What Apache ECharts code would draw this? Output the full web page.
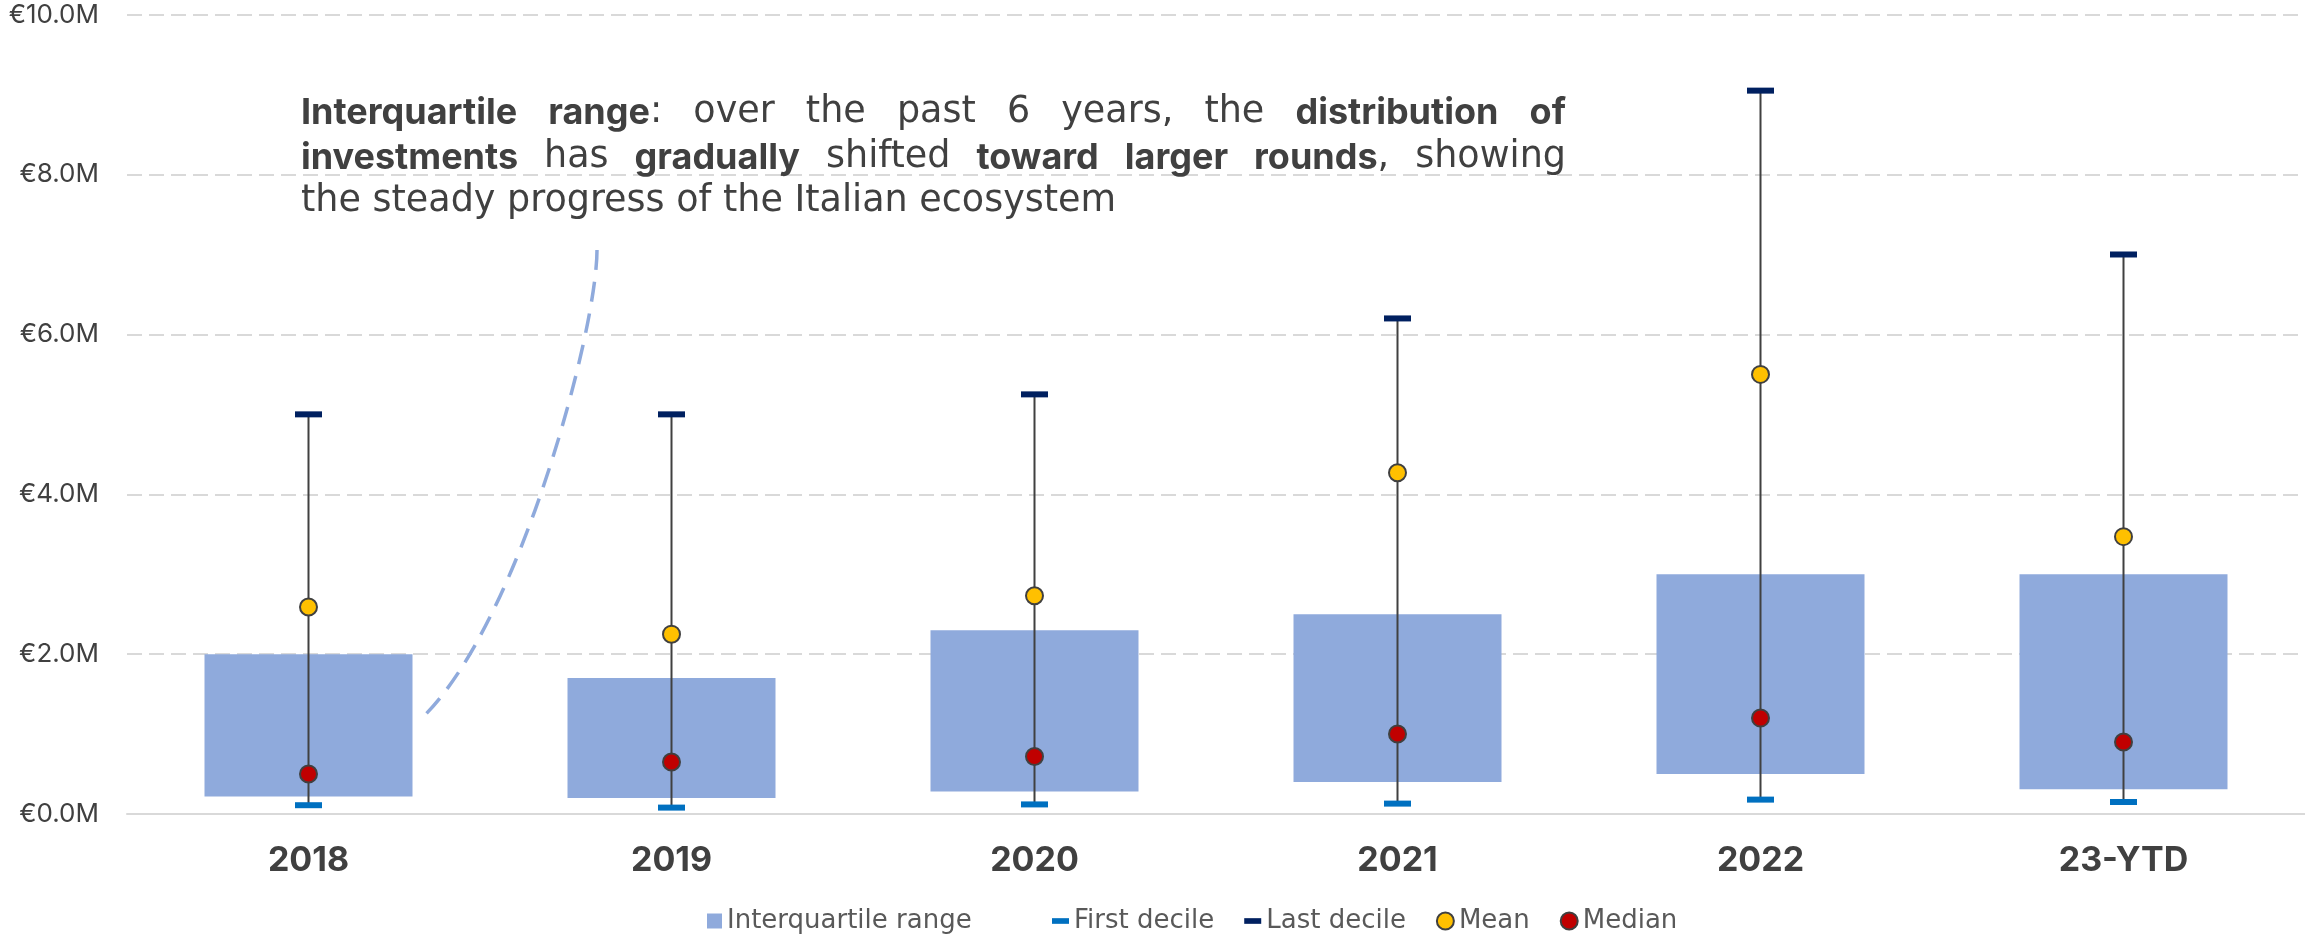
<!DOCTYPE html>
<html><head><meta charset="utf-8">
<script src="https://cdn.jsdelivr.net/npm/echarts@6/dist/echarts.min.js"></script>
<style>html,body{margin:0;padding:0;background:#fff}#c{width:2305px;height:936px}</style>
</head><body><div id="c"></div>
<script>
// ---- data (values in € millions) ----
const categories  = ['2018', '2019', '2020', '2021', '2022', '23-YTD'];
const q1          = [0.22, 0.20, 0.28, 0.40, 0.50, 0.31];
const q3          = [2.00, 1.70, 2.30, 2.50, 3.00, 3.00];
const firstDecile = [0.11, 0.08, 0.12, 0.13, 0.18, 0.15];
const lastDecile  = [5.00, 5.00, 5.25, 6.20, 9.05, 7.00];
const meanVals    = [2.59, 2.25, 2.73, 4.27, 5.50, 3.47];
const medianVals  = [0.50, 0.65, 0.72, 1.00, 1.20, 0.90];
const yTicks      = [0, 2, 4, 6, 8, 10];

// annotation text: words as [segment, bold] lists
const noteLine1 = [[['Interquartile',1]],[['range',1],[':',0]],[['over',0]],[['the',0]],[['past',0]],[['6',0]],[['years,',0]],[['the',0]],[['distribution',1]],[['of',1]]];
const noteLine2 = [[['investments',1]],[['has',0]],[['gradually',1]],[['shifted',0]],[['toward',1]],[['larger',1]],[['rounds',1],[',',0]],[['showing',0]]];
const noteLine3 = 'the steady progress of the Italian ecosystem';

const FONT = 'Inter';
const FONT_REG = 'DejaVu Sans';
const TXT = '#404040';

const chart = echarts.init(document.getElementById('c'));

// ---- justified annotation built with measured word widths ----
const FS_B = 36, FS_R = 36.5;
const ctx = document.createElement('canvas').getContext('2d');
function fontOf(b) { return b ? ('700 ' + FS_B + 'px ' + FONT) : ('400 ' + FS_R + 'px "' + FONT_REG + '"'); }
function mw(t, b) { ctx.font = fontOf(b); return ctx.measureText(t).width; }
function textEl(t, b, x, y) {
  return { type: 'text', x: x, y: y, z: 50,
    style: { text: t, fontFamily: b ? FONT : FONT_REG, fontSize: b ? FS_B : FS_R, fontWeight: b ? 700 : 400,
      fill: TXT, verticalAlign: 'middle', align: 'left' } };
}
const noteLeft = 301, noteRight = 1566;
const graphics = [];
function justify(words, y) {
  const widths = words.map(w => w.reduce((s, seg) => s + mw(seg[0], seg[1]), 0));
  const total = widths.reduce((a, b) => a + b, 0);
  const gap = (noteRight - noteLeft - total) / (words.length - 1);
  let x = noteLeft;
  words.forEach((w, i) => {
    let sx = x;
    w.forEach(seg => { graphics.push(textEl(seg[0], seg[1], sx, y)); sx += mw(seg[0], seg[1]); });
    x += widths[i] + gap;
  });
}
justify(noteLine1, 113);
justify(noteLine2, 158);
graphics.push(textEl(noteLine3, 0, noteLeft, 202));
graphics.push({
  type: 'bezierCurve', z: 40,
  shape: { x1: 597, y1: 250, cpx1: 597, cpy1: 330, cpx2: 520, cpy2: 620, x2: 424, y2: 716 },
  style: { stroke: '#8FAADC', lineWidth: 3.5, lineDash: [20, 12], fill: null }
});

const iqr = q3.map((v, i) => +(v - q1[i]).toFixed(4));
const legendText = { fontFamily: FONT_REG, fontSize: 26, color: '#595959', lineHeight: 30 };

chart.setOption({
  animation: false,
  backgroundColor: '#fff',
  grid: { left: 127, right: 0, top: 14.7, bottom: 122 },
  legend: [
    { left: 707, top: 906, padding: 0, itemWidth: 15, itemHeight: 15, itemGap: 31,
      textStyle: legendText,
      data: [{ name: 'Interquartile range', icon: 'rect' }] },
    { left: 1052, top: 906, padding: 0, itemWidth: 17, itemHeight: 17, itemGap: 30, symbolKeepAspect: true,
      textStyle: legendText,
      data: [
        { name: 'First decile', icon: 'path://M0,0H15V5H0Z' },
        { name: 'Last decile', icon: 'path://M0,0H15V5H0Z' },
        { name: 'Mean', icon: 'circle' },
        { name: 'Median', icon: 'circle' }
      ] }
  ],
  xAxis: {
    type: 'category', data: categories,
    axisLine: { show: true, lineStyle: { color: '#d9d9d9', width: 2 } },
    axisTick: { show: false },
    axisLabel: { fontFamily: FONT, fontSize: 34, fontWeight: 700, color: TXT, margin: 30, lineHeight: 34 }
  },
  yAxis: {
    type: 'value', min: yTicks[0], max: yTicks[yTicks.length - 1], interval: yTicks[1] - yTicks[0],
    axisLine: { show: false }, axisTick: { show: false },
    axisLabel: { fontFamily: FONT, fontSize: 26, color: TXT, margin: 28,
      formatter: v => '€' + v.toFixed(1) + 'M' },
    splitLine: { lineStyle: { color: '#d9d9d9', width: 2, type: [15, 7] } }
  },
  series: [
    { name: 'base', type: 'bar', stack: 'box', data: q1, barWidth: 208,
      itemStyle: { color: 'rgba(0,0,0,0)' }, silent: true, z: 1 },
    { name: 'Interquartile range', type: 'bar', stack: 'box', data: iqr, barWidth: 208,
      itemStyle: { color: '#8FAADC' }, z: 1 },
    { name: 'whisker', type: 'custom', z: 3, silent: true,
      data: categories.map((c, i) => [i, firstDecile[i], lastDecile[i]]),
      encode: { x: 0, y: [1, 2] },
      renderItem: (params, api) => {
        const a = api.coord([api.value(0), api.value(1)]);
        const b = api.coord([api.value(0), api.value(2)]);
        return { type: 'line', shape: { x1: a[0], y1: a[1], x2: b[0], y2: b[1] },
          style: { stroke: '#404040', lineWidth: 2 } };
      } },
    { name: 'First decile', type: 'scatter', data: firstDecile, symbol: 'rect', symbolSize: [27, 6], z: 4,
      itemStyle: { color: '#0070C0', opacity: 1 } },
    { name: 'Last decile', type: 'scatter', data: lastDecile, symbol: 'rect', symbolSize: [27, 6], z: 4,
      itemStyle: { color: '#002060', opacity: 1 } },
    { name: 'Mean', type: 'scatter', data: meanVals, symbol: 'circle', symbolSize: 17, z: 5,
      itemStyle: { color: '#FFC000', borderColor: '#404040', borderWidth: 2, opacity: 1 } },
    { name: 'Median', type: 'scatter', data: medianVals, symbol: 'circle', symbolSize: 17, z: 5,
      itemStyle: { color: '#C00000', borderColor: '#404040', borderWidth: 2, opacity: 1 } }
  ],
  graphic: graphics
});
</script>
</body></html>
